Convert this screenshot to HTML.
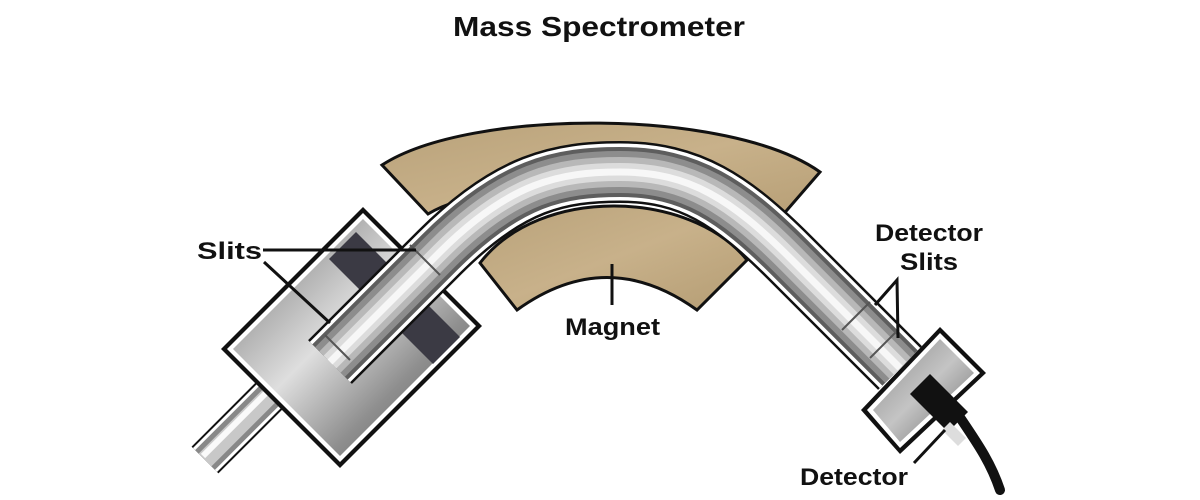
<!DOCTYPE html>
<html><head><meta charset="utf-8"><style>
html,body{margin:0;padding:0;background:#fff;width:1200px;height:500px;overflow:hidden}
svg{display:block}
text{font-family:"Liberation Sans",Arial,sans-serif;font-weight:bold;fill:#111}
</style></head><body>
<svg width="1200" height="500" viewBox="0 0 1200 500" xmlns="http://www.w3.org/2000/svg">
<defs>
<linearGradient id="mag" x1="0" y1="0" x2="1" y2="1">
<stop offset="0" stop-color="#b9a27a"/><stop offset="0.5" stop-color="#c8b18a"/><stop offset="1" stop-color="#b59d74"/>
</linearGradient>
<linearGradient id="cham" x1="0" y1="0" x2="1" y2="1">
<stop offset="0" stop-color="#6e6e6e"/><stop offset="0.45" stop-color="#dedede"/><stop offset="0.7" stop-color="#8e8e8e"/><stop offset="1" stop-color="#555"/>
</linearGradient>
<linearGradient id="det" x1="0" y1="0" x2="1" y2="1">
<stop offset="0" stop-color="#8a8a8a"/><stop offset="0.5" stop-color="#c4c4c4"/><stop offset="1" stop-color="#6a6a6a"/>
</linearGradient>
</defs>

<text x="599" y="36" font-size="28" text-anchor="middle" textLength="292" lengthAdjust="spacingAndGlyphs">Mass Spectrometer</text>

<!-- upper magnet -->
<path d="M382,165 C470,108 730,108 820,172 L775,224 C730,180 500,170 428,214 Z" fill="url(#mag)" stroke="#111" stroke-width="3"/>
<!-- lower magnet -->
<path d="M480,263 L517,310 Q607,245 697,310 L747,260 C690,190 540,185 480,263 Z" fill="url(#mag)" stroke="#111" stroke-width="3"/>

<!-- input thin tube -->
<g stroke-linecap="butt" fill="none">
<path d="M205,460 L300,365" stroke="#111" stroke-width="38"/>
<path d="M205,460 L300,365" stroke="#fff" stroke-width="34"/>
<path d="M205,460 L300,365" stroke="#888" stroke-width="28"/>
<path d="M205,460 L300,365" stroke="#c8c8c8" stroke-width="18"/>
<path d="M203,456 L296,363" stroke="#fafafa" stroke-width="6"/>
</g>

<!-- source chamber -->
<polygon points="363,207 482,326 340,468 221,349" fill="#111"/>
<polygon points="363,213 476,326 340,462 227,349" fill="#fff"/>
<polygon points="363,219 470,326 340,456 233,349" fill="url(#cham)"/>
<polygon points="356,232 392,268 365,295 329,259" fill="#3b3a44"/>
<polygon points="428,305 460,337 433,364 401,332" fill="#3b3a44"/>

<!-- detector box -->
<polygon points="940,327 986,373 900,454 861,410" fill="#111"/>
<polygon points="940,333 980,373 900,448 867,410" fill="#fff"/>
<polygon points="940,339 974,373 900,442 873,410" fill="url(#det)"/>

<!-- main tube -->
<g fill="none" stroke-linecap="butt">
<path d="M330,362 L440,252 C510,182 560,172 620,172 C690,172 732,200 790,258 L900,368" stroke="#111" stroke-width="62"/>
<path d="M330,362 L440,252 C510,182 560,172 620,172 C690,172 732,200 790,258 L900,368" stroke="#fff" stroke-width="57"/>
<path d="M330,362 L440,252 C510,182 560,172 620,172 C690,172 732,200 790,258 L900,368" stroke="#5e5e5e" stroke-width="50"/>
<path d="M330,362 L440,252 C510,182 560,172 620,172 C690,172 732,200 790,258 L900,368" stroke="#8d8d8d" stroke-width="42"/>
<path d="M330,362 L440,252 C510,182 560,172 620,172 C690,172 732,200 790,258 L900,368" stroke="#b8b8b8" stroke-width="30"/>
<path d="M330,362 L440,252 C510,182 560,172 620,172 C690,172 732,200 790,258 L900,368" stroke="#dcdcdc" stroke-width="18"/>
<path d="M330,362 L440,252 C510,182 560,172 620,172 C690,172 732,200 790,258 L900,368" stroke="#f7f7f7" stroke-width="7"/>
</g>
<g stroke="#555" stroke-width="2">
<line x1="410" y1="245" x2="440" y2="275"/>
<line x1="325" y1="335" x2="350" y2="360"/>
<line x1="842" y1="330" x2="870" y2="302"/>
<line x1="870" y1="358" x2="895" y2="333"/>
</g>

<!-- detector -->
<path d="M955,410 C975,440 990,460 1000,490" fill="none" stroke="#111" stroke-width="10" stroke-linecap="round"/>
<polygon points="930,374 968,412 948,432 910,394" fill="#111"/>
<polygon points="950,422 966,438 958,446 942,430" fill="#ddd"/>

<!-- labels -->
<text x="197" y="259" font-size="24" textLength="65" lengthAdjust="spacingAndGlyphs">Slits</text>
<line x1="263" y1="250" x2="416" y2="250" stroke="#111" stroke-width="3"/>
<line x1="264" y1="262" x2="330" y2="323" stroke="#111" stroke-width="3"/>
<text x="565" y="335" font-size="24" textLength="95" lengthAdjust="spacingAndGlyphs">Magnet</text>
<line x1="612" y1="264" x2="612" y2="305" stroke="#111" stroke-width="3"/>
<text x="875" y="241" font-size="24" textLength="108" lengthAdjust="spacingAndGlyphs">Detector</text>
<text x="900" y="270" font-size="24" textLength="58" lengthAdjust="spacingAndGlyphs">Slits</text>
<polyline points="875,305 897,280 898,338" fill="none" stroke="#111" stroke-width="3"/>
<text x="800" y="485" font-size="24" textLength="108" lengthAdjust="spacingAndGlyphs">Detector</text>
<line x1="914" y1="463" x2="945" y2="430" stroke="#111" stroke-width="3"/>
</svg>
</body></html>
